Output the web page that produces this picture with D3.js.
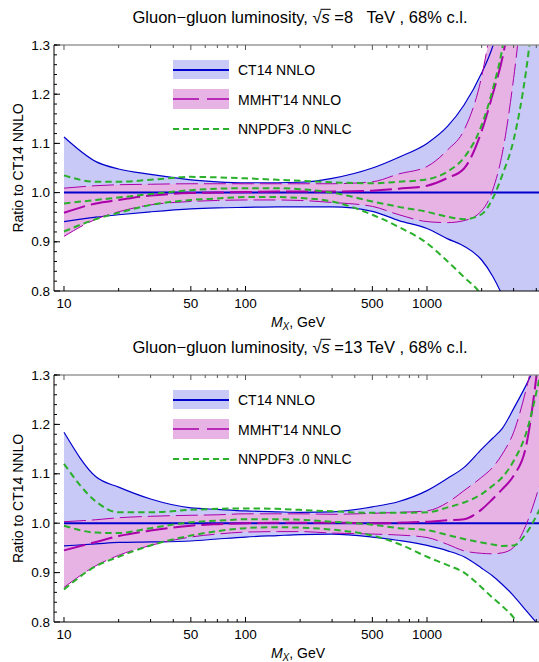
<!DOCTYPE html>
<html>
<head>
<meta charset="utf-8">
<script src="https://cdn.jsdelivr.net/npm/d3@7"></script>
<style>
  body { margin: 0; background: #fff; }
  svg { display: block; font-family: "Liberation Sans", Arial, sans-serif; }
</style>
</head>
<body>
<svg id="chart" width="539" height="662"></svg>
<script>
// invariant mass grid, GeV
const massGrid = [10, 15, 20, 30, 50, 70, 100, 150, 200, 300, 500, 700, 1000, 1300, 1600, 2000, 2300, 2600, 3000, 3500, 4200];

// sqrt(s) = 8 TeV
const ct14Up8   = [1.113, 1.063, 1.048, 1.037, 1.026, 1.022, 1.020, 1.020, 1.021, 1.029, 1.050, 1.072, 1.100, 1.135, 1.178, 1.243, 1.297, 1.37, 1.47, 1.60, 1.80];
const ct14Lo8   = [0.941, 0.950, 0.955, 0.961, 0.967, 0.969, 0.970, 0.971, 0.971, 0.971, 0.962, 0.943, 0.927, 0.906, 0.891, 0.863, 0.830, 0.79, 0.72, 0.62, 0.50];
const mmhtUp8   = [1.009, 1.014, 1.016, 1.017, 1.018, 1.018, 1.018, 1.018, 1.018, 1.018, 1.022, 1.038, 1.053, 1.087, 1.127, 1.236, 1.36, 1.50, 1.70, 1.90, 2.10];
const mmhtMid8  = [0.959, 0.978, 0.985, 0.994, 0.999, 1.000, 1.001, 1.002, 1.002, 1.002, 1.004, 1.008, 1.014, 1.030, 1.049, 1.125, 1.200, 1.273, 1.40, 1.55, 1.75];
const mmhtLo8   = [0.911, 0.946, 0.961, 0.975, 0.982, 0.984, 0.985, 0.985, 0.984, 0.980, 0.972, 0.955, 0.941, 0.939, 0.943, 0.963, 1.005, 1.080, 1.232, 1.45, 1.70];
const nnpdfUp8  = [1.035, 1.022, 1.022, 1.026, 1.032, 1.031, 1.029, 1.026, 1.024, 1.021, 1.019, 1.022, 1.027, 1.043, 1.071, 1.137, 1.209, 1.293, 1.45, 1.60, 1.80];
const nnpdfMid8 = [0.978, 0.985, 0.990, 0.997, 1.005, 1.008, 1.009, 1.009, 1.007, 1.000, 0.982, 0.971, 0.961, 0.951, 0.946, 0.956, 0.988, 1.036, 1.107, 1.243, 1.50];
const nnpdfLo8  = [0.921, 0.946, 0.959, 0.975, 0.985, 0.988, 0.991, 0.991, 0.989, 0.982, 0.955, 0.930, 0.897, 0.860, 0.828, 0.790, 0.740, 0.690, 0.630, 0.550, 0.450];

// sqrt(s) = 13 TeV
const ct14Up13   = [1.184, 1.094, 1.073, 1.049, 1.031, 1.028, 1.025, 1.023, 1.022, 1.023, 1.033, 1.044, 1.066, 1.091, 1.113, 1.150, 1.172, 1.192, 1.232, 1.278, 1.34];
const ct14Lo13   = [0.954, 0.958, 0.961, 0.962, 0.964, 0.968, 0.972, 0.975, 0.977, 0.978, 0.972, 0.965, 0.955, 0.944, 0.932, 0.909, 0.893, 0.876, 0.853, 0.824, 0.79];
const mmhtUp13   = [1.003, 1.007, 1.011, 1.014, 1.016, 1.017, 1.019, 1.019, 1.019, 1.018, 1.020, 1.022, 1.025, 1.042, 1.066, 1.093, 1.113, 1.140, 1.184, 1.268, 1.40];
const mmhtMid13  = [0.945, 0.962, 0.974, 0.985, 0.995, 0.998, 1.000, 1.001, 1.001, 1.001, 1.000, 1.001, 1.003, 1.006, 1.008, 1.028, 1.049, 1.069, 1.096, 1.153, 1.36];
const mmhtLo13   = [0.870, 0.914, 0.935, 0.955, 0.972, 0.978, 0.982, 0.983, 0.983, 0.980, 0.978, 0.976, 0.971, 0.957, 0.944, 0.939, 0.938, 0.940, 0.951, 0.995, 1.08];
const nnpdfUp13  = [1.120, 1.044, 1.022, 1.022, 1.027, 1.029, 1.030, 1.029, 1.027, 1.024, 1.021, 1.021, 1.022, 1.032, 1.042, 1.059, 1.076, 1.093, 1.126, 1.180, 1.30];
const nnpdfMid13 = [0.995, 0.981, 0.980, 0.990, 1.002, 1.005, 1.008, 1.008, 1.007, 1.003, 0.997, 0.990, 0.986, 0.976, 0.968, 0.961, 0.957, 0.954, 0.955, 0.978, 1.03];
const nnpdfLo13  = [0.866, 0.913, 0.932, 0.955, 0.975, 0.984, 0.990, 0.992, 0.991, 0.987, 0.975, 0.958, 0.932, 0.915, 0.900, 0.870, 0.849, 0.832, 0.809, 0.770, 0.72];

const xMajorTicks = [10, 50, 100, 500, 1000];
const xMinorTicks = [20, 30, 40, 60, 70, 80, 90, 200, 300, 400, 600, 700, 800, 900, 2000, 3000, 4000];
const yMajorTicks = [0.8, 0.9, 1.0, 1.1, 1.2, 1.3];
const yMinorTicks = d3.range(0.82, 1.3, 0.02);

const legendLabels = ["CT14 NNLO", "MMHT'14 NNLO", "NNPDF3 .0 NNLC"];

const blueFill = "#c9c9f8";
const blueLine = "#0000cc";
const pinkFill = "#e6b3e4";
const magLine = "#aa00aa";
const greenLine = "#2ab02a";

const panels = [
  { energy: "8", gap: "   ", top: 45, bottom: 291,
    ct14Up: ct14Up8, ct14Lo: ct14Lo8, mmhtUp: mmhtUp8, mmhtMid: mmhtMid8, mmhtLo: mmhtLo8,
    nnpdf: [nnpdfUp8, nnpdfMid8, nnpdfLo8] },
  { energy: "13", gap: " ", top: 375, bottom: 622,
    ct14Up: ct14Up13, ct14Lo: ct14Lo13, mmhtUp: mmhtUp13, mmhtMid: mmhtMid13, mmhtLo: mmhtLo13,
    nnpdf: [nnpdfUp13, nnpdfMid13, nnpdfLo13] }
];

const svg = d3.select("#chart");
const left = 54, right = 539;
const x = d3.scaleLog().domain([8.81, 4140]).range([left, right]);

function drawPanel(p) {
  const y = d3.scaleLinear().domain([0.8, 1.3]).range([p.bottom, p.top]);
  const clipId = "clip" + p.energy;

  svg.append("clipPath").attr("id", clipId)
    .append("rect")
    .attr("x", left).attr("y", p.top)
    .attr("width", right - left).attr("height", p.bottom - p.top);

  const plot = svg.append("g").attr("clip-path", `url(#${clipId})`);

  const band = d3.area()
    .x((d, i) => x(massGrid[i]))
    .y0(d => y(d[0]))
    .y1(d => y(d[1]))
    .curve(d3.curveMonotoneX);
  const line = d3.line()
    .x((d, i) => x(massGrid[i]))
    .y(d => y(d))
    .curve(d3.curveMonotoneX);

  plot.append("path").datum(d3.zip(p.ct14Lo, p.ct14Up))
    .attr("d", band).attr("fill", blueFill);
  plot.append("path").datum(d3.zip(p.mmhtLo, p.mmhtUp))
    .attr("d", band).attr("fill", pinkFill);

  [p.ct14Up, p.ct14Lo].forEach(s => {
    plot.append("path").datum(s).attr("d", line)
      .attr("fill", "none").attr("stroke", blueLine).attr("stroke-width", 1.2);
  });
  // CT14 central = ratio 1
  plot.append("line")
    .attr("x1", x(massGrid[0])).attr("x2", right)
    .attr("y1", y(1)).attr("y2", y(1))
    .attr("stroke", blueLine).attr("stroke-width", 2);

  [p.mmhtUp, p.mmhtLo].forEach(s => {
    plot.append("path").datum(s).attr("d", line)
      .attr("fill", "none").attr("stroke", magLine).attr("stroke-width", 1)
      .attr("stroke-dasharray", "22,6");
  });
  plot.append("path").datum(p.mmhtMid).attr("d", line)
    .attr("fill", "none").attr("stroke", magLine).attr("stroke-width", 2)
    .attr("stroke-dasharray", "22,6");

  p.nnpdf.forEach(s => {
    plot.append("path").datum(s).attr("d", line)
      .attr("fill", "none").attr("stroke", greenLine).attr("stroke-width", 2)
      .attr("stroke-dasharray", "6.5,4");
  });

  // frame + ticks
  const ax = svg.append("g");
  ax.append("line").attr("x1", left).attr("x2", right).attr("y1", p.top).attr("y2", p.top)
    .attr("stroke", "#999").attr("stroke-width", 1.3);
  ax.append("line").attr("x1", left).attr("x2", right).attr("y1", p.bottom).attr("y2", p.bottom)
    .attr("stroke", "#000").attr("stroke-width", 1);
  ax.append("line").attr("x1", left).attr("x2", left).attr("y1", p.top).attr("y2", p.bottom)
    .attr("stroke", "#000").attr("stroke-width", 1);

  const xt = xMajorTicks.map(v => ({ v, len: 5 })).concat(xMinorTicks.map(v => ({ v, len: 3 })));
  xt.forEach(t => {
    ax.append("line").attr("x1", x(t.v)).attr("x2", x(t.v))
      .attr("y1", p.bottom).attr("y2", p.bottom - t.len).attr("stroke", "#000");
    ax.append("line").attr("x1", x(t.v)).attr("x2", x(t.v))
      .attr("y1", p.top).attr("y2", p.top + t.len).attr("stroke", "#555");
  });
  const yt = yMajorTicks.map(v => ({ v, len: 6 })).concat(yMinorTicks.map(v => ({ v, len: 3 })));
  yt.forEach(t => {
    ax.append("line").attr("x1", left).attr("x2", left + t.len)
      .attr("y1", y(t.v)).attr("y2", y(t.v)).attr("stroke", "#000");
  });

  xMajorTicks.forEach(v => {
    ax.append("text").attr("x", x(v)).attr("y", p.bottom + 17)
      .attr("text-anchor", "middle").style("font-size", "13.5px").text(v);
  });
  yMajorTicks.forEach(v => {
    ax.append("text").attr("x", left - 4).attr("y", y(v) + 4.5)
      .attr("text-anchor", "end").style("font-size", "13.5px").text(v.toFixed(1));
  });

  // axis titles
  const xl = ax.append("text").attr("x", 298).attr("y", p.bottom + 36)
    .attr("text-anchor", "middle").style("font-size", "14px");
  xl.append("tspan").style("font-style", "italic").text("M");
  xl.append("tspan").style("font-style", "italic").style("font-size", "10px").attr("dy", 3).text("X");
  xl.append("tspan").attr("dy", -3).text(", GeV");

  ax.append("text")
    .attr("transform", `translate(23,${(p.top + p.bottom) / 2}) rotate(-90)`)
    .attr("text-anchor", "middle").style("font-size", "14px")
    .text("Ratio to CT14 NNLO");

  // panel title
  const fs = 16.5;
  const base = p.top - 22.5;
  const title = svg.append("text").attr("x", 300).attr("y", base)
    .attr("text-anchor", "middle").style("font-size", fs + "px").style("white-space", "pre");
  title.append("tspan").text("Gluon\u2212gluon luminosity, \u221A");
  title.append("tspan").style("font-style", "italic").text("s");
  title.append("tspan").text(" =" + p.energy + p.gap + "TeV , 68% c.l.");
  const tn = title.node();
  const sqIdx = "Gluon\u2212gluon luminosity, ".length;
  const x0 = tn.getEndPositionOfChar(sqIdx).x - 1;
  const x1 = tn.getEndPositionOfChar(sqIdx + 1).x + 1;
  svg.append("line").attr("x1", x0).attr("x2", x1)
    .attr("y1", base - 0.8 * fs).attr("y2", base - 0.8 * fs)
    .attr("stroke", "#000").attr("stroke-width", 1);

  // legend
  const lg = svg.append("g").attr("transform", `translate(173,${p.top})`);
  lg.append("rect").attr("x", 0).attr("y", 15).attr("width", 56).attr("height", 19).attr("fill", blueFill);
  lg.append("line").attr("x1", 0).attr("x2", 56).attr("y1", 25).attr("y2", 25)
    .attr("stroke", blueLine).attr("stroke-width", 2);
  lg.append("rect").attr("x", 0).attr("y", 44).attr("width", 56).attr("height", 20).attr("fill", pinkFill);
  lg.append("line").attr("x1", 0).attr("x2", 56).attr("y1", 54).attr("y2", 54)
    .attr("stroke", magLine).attr("stroke-width", 1.5).attr("stroke-dasharray", "26,8");
  lg.append("line").attr("x1", 0).attr("x2", 56).attr("y1", 84).attr("y2", 84)
    .attr("stroke", greenLine).attr("stroke-width", 2).attr("stroke-dasharray", "6,4");
  [30, 59.5, 89].forEach((ty, i) => {
    lg.append("text").attr("x", 65).attr("y", ty).style("font-size", "14px").text(legendLabels[i]);
  });
}

panels.forEach(drawPanel);
</script>
</body>
</html>
